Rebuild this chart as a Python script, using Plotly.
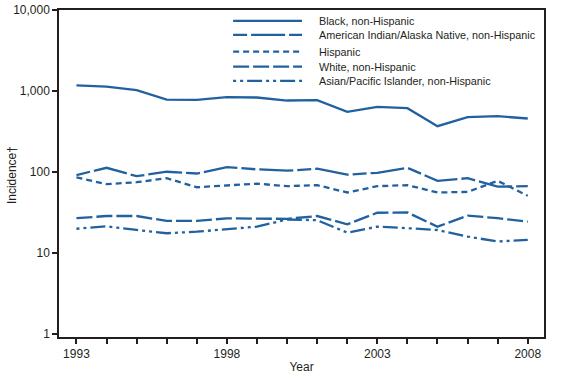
import plotly.graph_objects as go

years = list(range(1993, 2009))

black = [1178, 1136, 1024, 785, 777, 839, 832, 764, 771, 553, 637, 614, 369, 476, 489, 458]
aian = [92, 113, 89, 101, 96, 115, 108, 104, 110, 93, 98, 113, 78, 84, 66, 67]
hispanic = [86, 71, 75, 84, 65, 69, 72, 67, 69, 56, 67, 69, 56, 57, 78, 51]
white = [27, 28.7, 28.7, 25, 25, 26.9, 26.6, 26.5, 28.7, 22.7, 31.5, 31.8, 21.2, 29, 27, 24.4]
asian = [20, 21.4, 19.3, 17.6, 18.4, 19.7, 21.2, 26, 25.5, 17.9, 21.2, 20.3, 19.3, 16, 13.9, 14.6]

series = [
    ("Black, non-Hispanic", black, "solid"),
    ("American Indian/Alaska Native, non-Hispanic", aian, "14px,4px,34px,4px"),
    ("Hispanic", hispanic, "6px,4px"),
    ("White, non-Hispanic", white, "16px,4px"),
    ("Asian/Pacific Islander, non-Hispanic", asian, "3px,4px,3px,4px,15px,4px"),
]

blue = "#2161a0"
dark = "#231f20"

fig = go.Figure()
for name, vals, dash in series:
    fig.add_trace(go.Scatter(x=years, y=vals, name=name, mode="lines",
                             line=dict(color=blue, width=2.3, dash=dash)))

# hand-made legend (plotly's own legend rows are too far apart)
row_y = [0.967, 0.924, 0.873, 0.827, 0.783]
for (name, vals, dash), ry in zip(series, row_y):
    fig.add_shape(type="line", xref="paper", yref="paper",
                  x0=0.359, x1=0.501, y0=ry, y1=ry,
                  line=dict(color=blue, width=2.3, dash=dash))
    fig.add_annotation(xref="paper", yref="paper", x=0.532, y=ry,
                       xanchor="left", yanchor="middle", showarrow=False,
                       text=name, font=dict(size=10.8, color=dark))

# y title as an annotation so it sits where the original has it
fig.add_annotation(xref="paper", yref="paper", x=-0.097, y=0.495,
                   xanchor="center", yanchor="middle", showarrow=False,
                   textangle=-90, text="Incidence\u2020",
                   font=dict(size=12, color=dark))

x_labels = [str(y) if (y - 1993) % 5 == 0 else "" for y in years]

fig.update_layout(
    width=564, height=374,
    margin=dict(l=59, r=20, t=10, b=37),
    paper_bgcolor="white", plot_bgcolor="white",
    font=dict(family="Liberation Sans, Arial", size=12, color=dark),
    showlegend=False,
    xaxis=dict(range=[1992.42, 2008.54], tickvals=years, ticktext=x_labels,
               ticks="outside", ticklen=5, tickwidth=2, tickcolor=dark,
               showline=True, linecolor=dark, linewidth=1.5, mirror=True,
               showgrid=False, zeroline=False, automargin=False,
               title=dict(text="Year", font=dict(size=12), standoff=4)),
    yaxis=dict(type="log", range=[-0.035, 4.0],
               tickvals=[1, 10, 100, 1000, 10000],
               ticktext=["1", "10", "100", "1,000", "10,000"],
               ticks="outside", ticklen=5, tickwidth=2, tickcolor=dark,
               showline=True, linecolor=dark, linewidth=1.5, mirror=True,
               showgrid=False, zeroline=False, automargin=False),
)

# the page's default body margin shifts the figure by 8px; drop it
fig.write_html("out.html", config={"displayModeBar": False},
               post_script="document.body.style.margin='0';")
